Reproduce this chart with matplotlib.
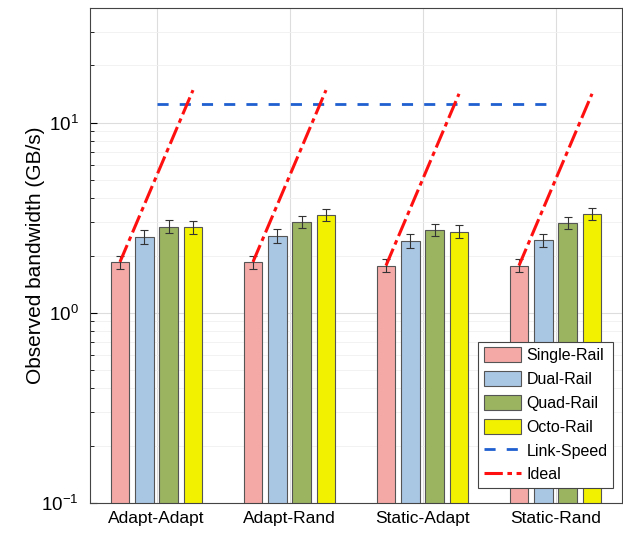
import matplotlib
matplotlib.use("Agg")
import matplotlib.pyplot as plt
import numpy as np
from matplotlib.ticker import LogLocator, NullFormatter

plt.rcParams['font.family'] = ['Liberation Sans', 'DejaVu Sans']

categories = ["Adapt-Adapt", "Adapt-Rand", "Static-Adapt", "Static-Rand"]
series = ["Single-Rail", "Dual-Rail", "Quad-Rail", "Octo-Rail"]
single = [1.85, 1.85, 1.77, 1.77]
dual = [2.51, 2.54, 2.39, 2.42]
quad = [2.84, 3.01, 2.73, 2.97]
octo = [2.82, 3.28, 2.67, 3.32]
single_err = [0.15, 0.15, 0.14, 0.14]
dual_err = [0.2, 0.2, 0.19, 0.19]
quad_err = [0.22, 0.23, 0.21, 0.23]
octo_err = [0.22, 0.25, 0.21, 0.25]
link_speed = 12.5
ideal_mult = [1, 2, 4, 8]

colors = ["#F5A9A7", "#A9C6E3", "#9AB460", "#F2F200"]

fig = plt.figure(figsize=(6.23, 5.34), dpi=100)
ax = fig.add_axes([90/623, 31/534, 532/623, 495/534])

x = np.arange(1, len(categories) + 1)
width = 0.14
step = 0.183
offsets = (np.arange(4) - 1.5) * step
vals = [single, dual, quad, octo]
errs = [single_err, dual_err, quad_err, octo_err]
bar_handles = []
for i in range(4):
    b = ax.bar(x + offsets[i], vals[i], width, color=colors[i], edgecolor="#555555",
               linewidth=0.8, label=series[i], zorder=2)
    bar_handles.append(b)
    ax.errorbar(x + offsets[i], vals[i], yerr=errs[i], fmt='none', ecolor="#333333",
                elinewidth=0.8, capsize=3, capthick=0.8, zorder=3)

ls, = ax.plot([x[0], x[-1]], [link_speed, link_speed], linestyle=(0, (4, 4)), color="#1F5FD0",
              linewidth=2, label="Link-Speed", zorder=4)
ideal_handle = None
for j in range(len(categories)):
    h, = ax.plot(x[j] + offsets, [single[j] * m for m in ideal_mult],
                 linestyle=(0, (6, 1.5, 1.5, 1.5)),
                 color="#FF1010", linewidth=2.2, label="Ideal", zorder=5)
    if ideal_handle is None:
        ideal_handle = h

ax.set_yscale('log')
ax.set_ylim(0.1, 40)
ax.set_xlim(0.5, 4.5)
ax.set_xticks(x)
ax.set_xticklabels(categories, fontsize=12.5)
ax.yaxis.set_minor_locator(LogLocator(base=10, subs=np.arange(2, 10)))
ax.yaxis.set_minor_formatter(NullFormatter())
ax.tick_params(axis='both', which='both', direction='in')
ax.tick_params(axis='y', which='major', length=5, labelsize=13.5, pad=8)
ax.tick_params(axis='y', which='minor', length=3)
ax.tick_params(axis='x', length=0, pad=6)
ax.set_ylabel("Observed bandwidth (GB/s)", fontsize=15)
ax.yaxis.set_label_coords(-0.085, 0.5)
ax.grid(True, which='major', color="#DDDDDD", linewidth=0.8, zorder=0)
ax.grid(True, which='minor', axis='y', color="#F0F0F0", linewidth=0.6, zorder=0)
ax.set_axisbelow(True)
for s in ax.spines.values():
    s.set_color("#444444")
    s.set_linewidth(0.8)

handles = bar_handles + [ls, ideal_handle]
labels = series + ["Link-Speed", "Ideal"]
leg = ax.legend(handles, labels, loc='lower right', bbox_to_anchor=(613/623, 46/534),
                bbox_transform=fig.transFigure, fontsize=11.5, frameon=True, fancybox=False,
                edgecolor="#444444", framealpha=1, borderaxespad=0.0, borderpad=0.35,
                handlelength=2.3, handleheight=1.05, handletextpad=0.35, labelspacing=0.5)
leg.get_frame().set_linewidth(0.8)

fig.savefig("out.png", dpi=100)
